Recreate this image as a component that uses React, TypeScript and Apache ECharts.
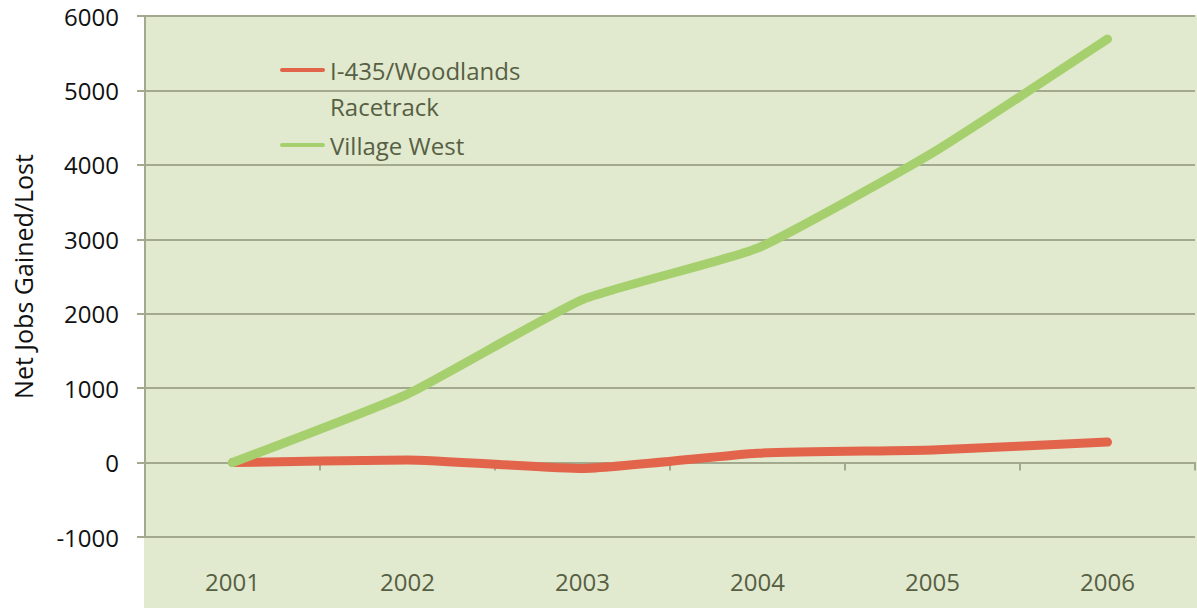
import React, { useEffect, useRef } from "react";
import * as echarts from "echarts";

const years = ["2001", "2002", "2003", "2004", "2005", "2006"];
const woodlandsName = "I-435/Woodlands\nRacetrack";
const villageName = "Village West";
const woodlandsJobs = [0, 35, -80, 125, 170, 275];
const villageJobs = [0, 920, 2190, 2880, 4160, 5690];
const yMin = -1000;
const yMax = 6000;
const yStep = 1000;

const FONT = "'Open Sans', 'Liberation Sans', sans-serif";
const OLIVE = "#575f43";
const GRID = "#a2a98c";
const RED = "#e2654b";
const GREEN = "#a6d06e";
const FS = 24;

// rounded bar used as the legend swatch
const SWATCH = "path://M2,0 L43,0 A2,2 0 0 1 43,4 L2,4 A2,2 0 0 1 2,0 Z";

export default function App() {
  const ref = useRef<HTMLDivElement>(null);

  useEffect(() => {
    if (!ref.current) return;
    const chart = echarts.init(ref.current, undefined, { renderer: "svg" });
    const legendText = { fontSize: FS, color: OLIVE, lineHeight: 36, fontFamily: FONT };
    chart.setOption({
      animation: false,
      backgroundColor: "#ffffff",
      textStyle: { fontFamily: FONT },
      graphic: [
        {
          type: "rect",
          z: -10,
          shape: { x: 144, y: 15, width: 1053, height: 593 },
          style: { fill: "#e1e9cf" },
          silent: true,
        },
      ],
      grid: {
        left: 145,
        top: 16,
        right: 2,
        bottom: 71,
        containLabel: false,
        outerBoundsMode: "none",
      },
      legend: [
        {
          data: [woodlandsName],
          left: 280,
          top: 16,
          padding: 0,
          orient: "vertical",
          icon: SWATCH,
          itemWidth: 45,
          itemHeight: 5,
          formatter: (n: string) => "\n" + n,
          textStyle: legendText,
        },
        {
          data: [villageName],
          left: 280,
          top: 127,
          padding: 0,
          orient: "vertical",
          icon: SWATCH,
          itemWidth: 45,
          itemHeight: 5,
          textStyle: legendText,
        },
      ],
      xAxis: [
        {
          type: "category",
          data: years,
          boundaryGap: true,
          axisLine: { onZero: true, lineStyle: { color: GRID, width: 2 } },
          axisTick: { show: true, length: 8, inside: false, lineStyle: { color: GRID, width: 2 } },
          axisLabel: { show: false },
          splitLine: { show: false },
        },
        {
          type: "category",
          data: years,
          position: "bottom",
          boundaryGap: true,
          axisLine: { show: false, onZero: false },
          axisTick: { show: false },
          axisLabel: { show: true, margin: 32, fontSize: FS, color: OLIVE, fontFamily: FONT },
          splitLine: { show: false },
        },
      ],
      yAxis: {
        type: "value",
        min: yMin,
        max: yMax,
        interval: yStep,
        name: "Net Jobs Gained/Lost",
        nameLocation: "middle",
        nameGap: 110,
        nameTextStyle: { fontSize: 25, color: "#111111", fontFamily: FONT },
        axisLine: { show: true, lineStyle: { color: GRID, width: 2 } },
        axisTick: { show: true, length: 8, inside: false, lineStyle: { color: GRID, width: 2 } },
        axisLabel: {
          margin: 26,
          fontSize: FS,
          color: "#111111",
          fontFamily: FONT,
          formatter: (v: number) => String(v),
        },
        splitLine: { show: true, lineStyle: { color: GRID, width: 2 } },
      },
      series: [
        {
          name: woodlandsName,
          type: "line",
          data: woodlandsJobs,
          xAxisIndex: 0,
          showSymbol: false,
          symbol: "none",
          smooth: 0.15,
          lineStyle: { color: RED, width: 9, cap: "round", join: "round" },
          itemStyle: { color: RED },
          z: 3,
        },
        {
          name: villageName,
          type: "line",
          data: villageJobs,
          xAxisIndex: 0,
          showSymbol: false,
          symbol: "none",
          smooth: 0.15,
          lineStyle: { color: GREEN, width: 9, cap: "round", join: "round" },
          itemStyle: { color: GREEN },
          z: 4,
        },
      ],
    });
    return () => chart.dispose();
  }, []);

  return (
    <div
      ref={ref}
      style={{ position: "fixed", left: 0, top: 0, width: 1197, height: 608 }}
    />
  );
}
